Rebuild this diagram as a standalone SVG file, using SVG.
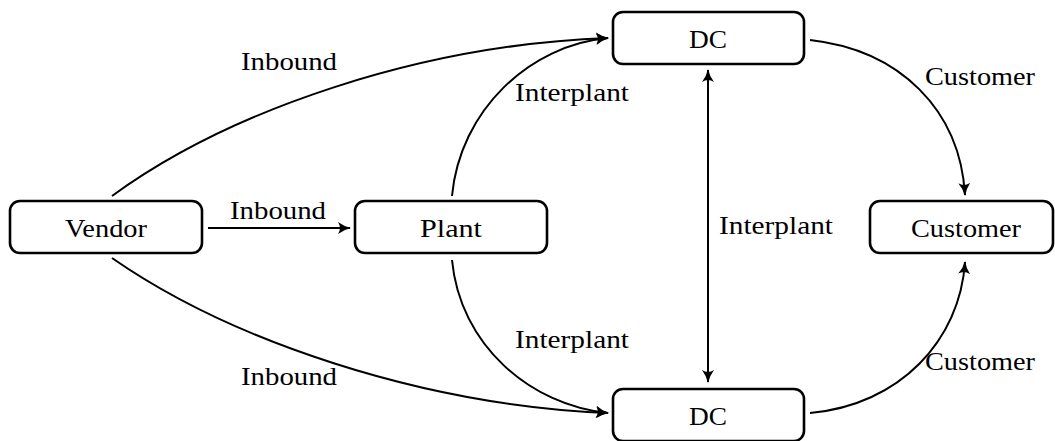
<svg xmlns="http://www.w3.org/2000/svg" width="1055" height="441" viewBox="0 0 1055 441">
<style>
.node{fill:#fff;stroke:#000;stroke-width:2.6}
.t{font-family:'Liberation Serif','DejaVu Serif',serif;font-size:25px;fill:#000;text-anchor:middle}
.e{fill:none;stroke:#000;stroke-width:2}
</style>
<defs>
<marker id="ah" viewBox="0 0 13 13" refX="12" refY="6.5" markerWidth="13" markerHeight="13" markerUnits="userSpaceOnUse" orient="auto-start-reverse">
<path d="M0,0.5 Q6,5 13,6.5 Q6,8 0,12.5 Q4,6.5 0,0.5 Z" fill="#000"/>
</marker>
</defs>
<rect width="1055" height="441" fill="#fff"/>
<g id="connectors">
<path class="e" d="M208,228 L350,228" marker-end="url(#ah)"/>
<path class="e" d="M112,196 C230,110 420,45 608,38" marker-end="url(#ah)"/>
<path class="e" d="M112,258 C230,340 420,405 608,413" marker-end="url(#ah)"/>
<path class="e" d="M452,196 C460,110 530,45 608,38" marker-end="url(#ah)"/>
<path class="e" d="M452,260 C460,345 530,405 608,413" marker-end="url(#ah)"/>
<path class="e" d="M708,70 L708,382" marker-start="url(#ah)" marker-end="url(#ah)"/>
<path class="e" d="M810,40 C900,50 960,110 965,195" marker-end="url(#ah)"/>
<path class="e" d="M810,413 C900,405 960,340 965,262" marker-end="url(#ah)"/>
<text class="t" x="278" y="219" textLength="96" lengthAdjust="spacingAndGlyphs">Inbound</text>
<text class="t" x="289" y="70" textLength="96" lengthAdjust="spacingAndGlyphs">Inbound</text>
<text class="t" x="289" y="385" textLength="96" lengthAdjust="spacingAndGlyphs">Inbound</text>
<text class="t" x="572" y="101" textLength="114" lengthAdjust="spacingAndGlyphs">Interplant</text>
<text class="t" x="572" y="348" textLength="114" lengthAdjust="spacingAndGlyphs">Interplant</text>
<text class="t" x="776" y="234" textLength="114" lengthAdjust="spacingAndGlyphs">Interplant</text>
<text class="t" x="980" y="85" textLength="110" lengthAdjust="spacingAndGlyphs">Customer</text>
<text class="t" x="980" y="370" textLength="110" lengthAdjust="spacingAndGlyphs">Customer</text>
</g>
<g id="vendor"><rect class="node" x="10" y="201" width="192" height="52" rx="10"/><text class="t" x="106" y="237" textLength="82" lengthAdjust="spacingAndGlyphs">Vendor</text></g>
<g id="plant"><rect class="node" x="355" y="201" width="192" height="52" rx="10"/><text class="t" x="451" y="237" textLength="62" lengthAdjust="spacingAndGlyphs">Plant</text></g>
<g id="dc-top"><rect class="node" x="613" y="12" width="191" height="52" rx="10"/><text class="t" x="708" y="48" textLength="38" lengthAdjust="spacingAndGlyphs">DC</text></g>
<g id="dc-bottom"><rect class="node" x="613" y="389" width="191" height="52" rx="10"/><text class="t" x="708" y="425" textLength="38" lengthAdjust="spacingAndGlyphs">DC</text></g>
<g id="customer"><rect class="node" x="870" y="201" width="183" height="52" rx="10"/><text class="t" x="966" y="237" textLength="110" lengthAdjust="spacingAndGlyphs">Customer</text></g>
</svg>
